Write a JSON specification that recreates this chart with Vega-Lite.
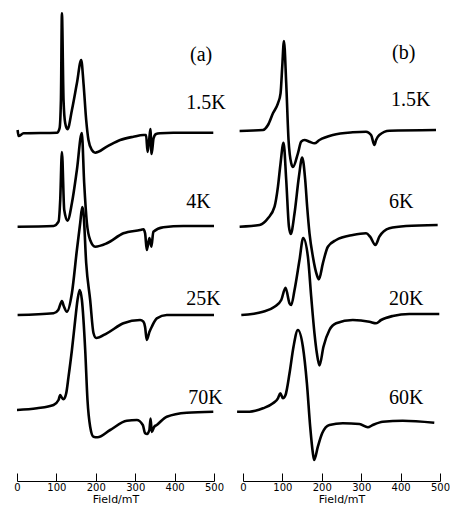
{
  "$schema": "https://vega.github.io/schema/vega-lite/v6.json",
  "padding": {"left": 13, "top": 0, "right": 0, "bottom": 0},
  "bounds": "flush",
  "spacing": 29,
  "background": "white",
  "config": {
    "view": {"stroke": null},
    "axisX": {
      "grid": false,
      "values": [0, 100, 200, 300, 400, 500],
      "domainColor": "black",
      "domainWidth": 1,
      "tickColor": "black",
      "tickWidth": 1,
      "tickSize": -8,
      "labelFlush": false,
      "labelFont": "DejaVu Sans",
      "labelFontSize": 10,
      "labelColor": "black",
      "labelPadding": 9,
      "titleFont": "DejaVu Sans",
      "titleFontSize": 11,
      "titleFontWeight": "normal",
      "titleColor": "black",
      "titlePadding": 1
    }
  },
  "datasets": {
    "spectra": [
      {"p":"a","T":"1.5K","B":1.5,"s":351},{"p":"a","T":"1.5K","B":4.1,"s":345},{"p":"a","T":"1.5K","B":16.7,"s":347.7},{"p":"a","T":"1.5K","B":101.4,"s":348.3},{"p":"a","T":"1.5K","B":108,"s":352.7},{"p":"a","T":"1.5K","B":111.5,"s":381},{"p":"a","T":"1.5K","B":114,"s":467.7},{"p":"a","T":"1.5K","B":118.1,"s":381},{"p":"a","T":"1.5K","B":122.4,"s":357.7},{"p":"a","T":"1.5K","B":128.2,"s":351.7},{"p":"a","T":"1.5K","B":139.4,"s":371},{"p":"a","T":"1.5K","B":152,"s":397.7},{"p":"a","T":"1.5K","B":163,"s":421},{"p":"a","T":"1.5K","B":168.8,"s":397.7},{"p":"a","T":"1.5K","B":175.6,"s":361},{"p":"a","T":"1.5K","B":181.4,"s":341},{"p":"a","T":"1.5K","B":190,"s":331},{"p":"a","T":"1.5K","B":198.4,"s":328.3},{"p":"a","T":"1.5K","B":228,"s":334.3},{"p":"a","T":"1.5K","B":261.8,"s":341},{"p":"a","T":"1.5K","B":295.5,"s":344.3},{"p":"a","T":"1.5K","B":320.8,"s":346},{"p":"a","T":"1.5K","B":327.6,"s":346},{"p":"a","T":"1.5K","B":331.4,"s":329},{"p":"a","T":"1.5K","B":335.2,"s":340},{"p":"a","T":"1.5K","B":338.5,"s":352},{"p":"a","T":"1.5K","B":341.6,"s":327},{"p":"a","T":"1.5K","B":346.7,"s":343},{"p":"a","T":"1.5K","B":353,"s":347},{"p":"a","T":"1.5K","B":363.1,"s":347.7},{"p":"a","T":"1.5K","B":396.8,"s":348.3},{"p":"a","T":"1.5K","B":498.2,"s":348.3},

      {"p":"a","T":"4K","B":1.5,"s":254.3},{"p":"a","T":"4K","B":92.7,"s":255},{"p":"a","T":"4K","B":105.4,"s":259.3},{"p":"a","T":"4K","B":109.7,"s":281},{"p":"a","T":"4K","B":114,"s":329},{"p":"a","T":"4K","B":119.9,"s":271},{"p":"a","T":"4K","B":128.2,"s":260.3},{"p":"a","T":"4K","B":139.4,"s":278},{"p":"a","T":"4K","B":152,"s":311},{"p":"a","T":"4K","B":164.5,"s":348},{"p":"a","T":"4K","B":170.5,"s":298},{"p":"a","T":"4K","B":177.4,"s":258},{"p":"a","T":"4K","B":185.7,"s":241},{"p":"a","T":"4K","B":198.4,"s":234.3},{"p":"a","T":"4K","B":228,"s":237.7},{"p":"a","T":"4K","B":270.1,"s":247.7},{"p":"a","T":"4K","B":312.4,"s":251},{"p":"a","T":"4K","B":320.8,"s":251.7},{"p":"a","T":"4K","B":325.1,"s":247.7},{"p":"a","T":"4K","B":329.4,"s":231},{"p":"a","T":"4K","B":336,"s":243},{"p":"a","T":"4K","B":341.1,"s":234.3},{"p":"a","T":"4K","B":346.1,"s":249.3},{"p":"a","T":"4K","B":371.5,"s":253.7},{"p":"a","T":"4K","B":422.2,"s":255},{"p":"a","T":"4K","B":500,"s":255},

      {"p":"a","T":"25K","B":1.5,"s":166},{"p":"a","T":"25K","B":92.7,"s":167.7},{"p":"a","T":"25K","B":104.7,"s":171},{"p":"a","T":"25K","B":114,"s":180},{"p":"a","T":"25K","B":118.6,"s":175},{"p":"a","T":"25K","B":126.7,"s":169.3},{"p":"a","T":"25K","B":139.4,"s":188},{"p":"a","T":"25K","B":152,"s":231},{"p":"a","T":"25K","B":160.4,"s":258},{"p":"a","T":"25K","B":165.5,"s":274},{"p":"a","T":"25K","B":168.8,"s":268},{"p":"a","T":"25K","B":175.6,"s":218},{"p":"a","T":"25K","B":185.7,"s":181},{"p":"a","T":"25K","B":194.1,"s":148},{"p":"a","T":"25K","B":200.9,"s":143},{"p":"a","T":"25K","B":228,"s":147.7},{"p":"a","T":"25K","B":270.1,"s":157.7},{"p":"a","T":"25K","B":312.4,"s":161},{"p":"a","T":"25K","B":320.8,"s":159.3},{"p":"a","T":"25K","B":325.1,"s":154},{"p":"a","T":"25K","B":329.4,"s":141},{"p":"a","T":"25K","B":336,"s":149},{"p":"a","T":"25K","B":342.1,"s":154.3},{"p":"a","T":"25K","B":354.8,"s":162.7},{"p":"a","T":"25K","B":380.1,"s":166},{"p":"a","T":"25K","B":500,"s":166},

      {"p":"a","T":"70K","B":0,"s":71},{"p":"a","T":"70K","B":50.7,"s":72.7},{"p":"a","T":"70K","B":92.7,"s":76},{"p":"a","T":"70K","B":105.4,"s":81},{"p":"a","T":"70K","B":109.7,"s":86},{"p":"a","T":"70K","B":112.3,"s":84.3},{"p":"a","T":"70K","B":118.1,"s":81.7},{"p":"a","T":"70K","B":124.9,"s":87.7},{"p":"a","T":"70K","B":130.8,"s":104.3},{"p":"a","T":"70K","B":139.4,"s":131},{"p":"a","T":"70K","B":147.7,"s":161},{"p":"a","T":"70K","B":153.6,"s":181},{"p":"a","T":"70K","B":159.1,"s":191},{"p":"a","T":"70K","B":164.7,"s":181},{"p":"a","T":"70K","B":173.1,"s":131},{"p":"a","T":"70K","B":178.9,"s":81},{"p":"a","T":"70K","B":185.7,"s":54.3},{"p":"a","T":"70K","B":194.1,"s":44.3},{"p":"a","T":"70K","B":204.2,"s":43.7},{"p":"a","T":"70K","B":236.4,"s":51},{"p":"a","T":"70K","B":278.7,"s":60.3},{"p":"a","T":"70K","B":304.1,"s":61},{"p":"a","T":"70K","B":319.3,"s":56},{"p":"a","T":"70K","B":325.1,"s":47.7},{"p":"a","T":"70K","B":330.2,"s":47},{"p":"a","T":"70K","B":336,"s":51},{"p":"a","T":"70K","B":339,"s":62.5},{"p":"a","T":"70K","B":342.1,"s":49},{"p":"a","T":"70K","B":347.9,"s":54},{"p":"a","T":"70K","B":354.8,"s":56},{"p":"a","T":"70K","B":380.1,"s":64.3},{"p":"a","T":"70K","B":430.8,"s":68.3},{"p":"a","T":"70K","B":498.2,"s":69.3},

      {"p":"b","T":"1.5K","B":-8.6,"s":350},{"p":"b","T":"1.5K","B":50.7,"s":351},{"p":"b","T":"1.5K","B":63.4,"s":356},{"p":"b","T":"1.5K","B":76,"s":367.7},{"p":"b","T":"1.5K","B":88.7,"s":377.7},{"p":"b","T":"1.5K","B":95.3,"s":387.7},{"p":"b","T":"1.5K","B":99.6,"s":414.3},{"p":"b","T":"1.5K","B":103.9,"s":440},{"p":"b","T":"1.5K","B":109.7,"s":397.7},{"p":"b","T":"1.5K","B":115.6,"s":341},{"p":"b","T":"1.5K","B":122.4,"s":317.7},{"p":"b","T":"1.5K","B":126.7,"s":314},{"p":"b","T":"1.5K","B":139.4,"s":327.7},{"p":"b","T":"1.5K","B":147.7,"s":339.3},{"p":"b","T":"1.5K","B":156.1,"s":341},{"p":"b","T":"1.5K","B":168.8,"s":339.3},{"p":"b","T":"1.5K","B":181.4,"s":337.7},{"p":"b","T":"1.5K","B":194.1,"s":341},{"p":"b","T":"1.5K","B":228.1,"s":346},{"p":"b","T":"1.5K","B":278.7,"s":348.7},{"p":"b","T":"1.5K","B":312.4,"s":349.3},{"p":"b","T":"1.5K","B":325.1,"s":346},{"p":"b","T":"1.5K","B":333.5,"s":336},{"p":"b","T":"1.5K","B":337.8,"s":341},{"p":"b","T":"1.5K","B":346.1,"s":346},{"p":"b","T":"1.5K","B":371.5,"s":350.3},{"p":"b","T":"1.5K","B":489.8,"s":351},

      {"p":"b","T":"6K","B":-8.6,"s":254.3},{"p":"b","T":"6K","B":42.1,"s":256},{"p":"b","T":"6K","B":63.4,"s":262.7},{"p":"b","T":"6K","B":80.1,"s":274.3},{"p":"b","T":"6K","B":88.7,"s":294.3},{"p":"b","T":"6K","B":95.3,"s":317.7},{"p":"b","T":"6K","B":102.9,"s":338.3},{"p":"b","T":"6K","B":109.7,"s":301},{"p":"b","T":"6K","B":116.6,"s":254.3},{"p":"b","T":"6K","B":121.1,"s":247},{"p":"b","T":"6K","B":130.8,"s":267.7},{"p":"b","T":"6K","B":141.9,"s":304.3},{"p":"b","T":"6K","B":150.3,"s":323.5},{"p":"b","T":"6K","B":157.9,"s":301},{"p":"b","T":"6K","B":162.9,"s":274},{"p":"b","T":"6K","B":168.8,"s":247.7},{"p":"b","T":"6K","B":177.4,"s":224.3},{"p":"b","T":"6K","B":187.5,"s":206},{"p":"b","T":"6K","B":192.6,"s":201.7},{"p":"b","T":"6K","B":202.7,"s":217.7},{"p":"b","T":"6K","B":215.4,"s":234.3},{"p":"b","T":"6K","B":236.4,"s":241},{"p":"b","T":"6K","B":278.7,"s":246},{"p":"b","T":"6K","B":312.4,"s":247.7},{"p":"b","T":"6K","B":322.6,"s":244.3},{"p":"b","T":"6K","B":336,"s":236},{"p":"b","T":"6K","B":346.1,"s":244.3},{"p":"b","T":"6K","B":371.5,"s":252.7},{"p":"b","T":"6K","B":413.8,"s":255},{"p":"b","T":"6K","B":494.1,"s":256},

      {"p":"b","T":"20K","B":-4.3,"s":166},{"p":"b","T":"20K","B":50.7,"s":169.3},{"p":"b","T":"20K","B":80.1,"s":174.3},{"p":"b","T":"20K","B":97.1,"s":181},{"p":"b","T":"20K","B":107.9,"s":193.3},{"p":"b","T":"20K","B":118.1,"s":177.7},{"p":"b","T":"20K","B":122.4,"s":176},{"p":"b","T":"20K","B":130.8,"s":191},{"p":"b","T":"20K","B":143.4,"s":221},{"p":"b","T":"20K","B":152.8,"s":243},{"p":"b","T":"20K","B":164.7,"s":224.3},{"p":"b","T":"20K","B":173.1,"s":184.3},{"p":"b","T":"20K","B":181.4,"s":147.7},{"p":"b","T":"20K","B":187.5,"s":127.7},{"p":"b","T":"20K","B":194.1,"s":115.5},{"p":"b","T":"20K","B":204.2,"s":134.3},{"p":"b","T":"20K","B":219.4,"s":151},{"p":"b","T":"20K","B":236.4,"s":157.7},{"p":"b","T":"20K","B":278.7,"s":161},{"p":"b","T":"20K","B":320.8,"s":159.3},{"p":"b","T":"20K","B":337.8,"s":157.7},{"p":"b","T":"20K","B":350.5,"s":161},{"p":"b","T":"20K","B":380.1,"s":165},{"p":"b","T":"20K","B":422.2,"s":167},{"p":"b","T":"20K","B":498.2,"s":167},

      {"p":"b","T":"60K","B":-15,"s":69.3},{"p":"b","T":"60K","B":16.7,"s":69.3},{"p":"b","T":"60K","B":50.7,"s":72.7},{"p":"b","T":"60K","B":76,"s":77.7},{"p":"b","T":"60K","B":88.7,"s":82.7},{"p":"b","T":"60K","B":94.5,"s":87.7},{"p":"b","T":"60K","B":101.4,"s":82.7},{"p":"b","T":"60K","B":107.9,"s":86},{"p":"b","T":"60K","B":118.1,"s":107.7},{"p":"b","T":"60K","B":128.2,"s":134.3},{"p":"b","T":"60K","B":139.4,"s":151},{"p":"b","T":"60K","B":152,"s":134.3},{"p":"b","T":"60K","B":162.2,"s":97.7},{"p":"b","T":"60K","B":170.5,"s":54.3},{"p":"b","T":"60K","B":177.4,"s":27.7},{"p":"b","T":"60K","B":180.7,"s":21},{"p":"b","T":"60K","B":190,"s":34.3},{"p":"b","T":"60K","B":200.9,"s":47.7},{"p":"b","T":"60K","B":219.4,"s":56},{"p":"b","T":"60K","B":253.4,"s":57.7},{"p":"b","T":"60K","B":295.5,"s":57},{"p":"b","T":"60K","B":316.8,"s":53.7},{"p":"b","T":"60K","B":329.4,"s":56},{"p":"b","T":"60K","B":354.8,"s":59.3},{"p":"b","T":"60K","B":405.4,"s":60.3},{"p":"b","T":"60K","B":485.5,"s":58.3}
    ],
    "labels": [
      {"p":"a","label":"(a)","B":439,"s":426},
      {"p":"a","label":"1.5K","B":429.5,"s":378},
      {"p":"a","label":"4K","B":429.5,"s":279},
      {"p":"a","label":"25K","B":429.5,"s":182},
      {"p":"a","label":"70K","B":434.6,"s":83},
      {"p":"b","label":"(b)","B":378.4,"s":428},
      {"p":"b","label":"1.5K","B":375.8,"s":381},
      {"p":"b","label":"6K","B":370.7,"s":279},
      {"p":"b","label":"20K","B":370.7,"s":182},
      {"p":"b","label":"60K","B":370.7,"s":83}
    ]
  },
  "hconcat": [
    {
      "width": 197,
      "height": 481,
      "layer": [
        {
          "data": {"name": "spectra"},
          "transform": [{"filter": "datum.p == 'a'"}],
          "mark": {"type": "line", "color": "black", "strokeWidth": 2.6, "clip": false, "strokeJoin": "round", "interpolate": "monotone"},
          "encoding": {
            "x": {"field": "B", "type": "quantitative", "scale": {"domain": [0, 500], "nice": false}, "axis": {"title": "Field/mT"}},
            "y": {"field": "s", "type": "quantitative", "scale": {"domain": [0, 481], "nice": false}, "axis": null},
            "detail": {"field": "T"}
          }
        },
        {
          "data": {"name": "labels"},
          "transform": [{"filter": "datum.p == 'a'"}],
          "mark": {"type": "text", "font": "Liberation Serif", "fontSize": 20, "align": "left", "baseline": "middle", "color": "black"},
          "encoding": {
            "x": {"field": "B", "type": "quantitative"},
            "y": {"field": "s", "type": "quantitative"},
            "text": {"field": "label"}
          }
        }
      ]
    },
    {
      "width": 197,
      "height": 481,
      "layer": [
        {
          "data": {"name": "spectra"},
          "transform": [{"filter": "datum.p == 'b'"}],
          "mark": {"type": "line", "color": "black", "strokeWidth": 2.6, "clip": false, "strokeJoin": "round", "interpolate": "monotone"},
          "encoding": {
            "x": {"field": "B", "type": "quantitative", "scale": {"domain": [0, 500], "nice": false}, "axis": {"title": "Field/mT"}},
            "y": {"field": "s", "type": "quantitative", "scale": {"domain": [0, 481], "nice": false}, "axis": null},
            "detail": {"field": "T"}
          }
        },
        {
          "data": {"name": "labels"},
          "transform": [{"filter": "datum.p == 'b'"}],
          "mark": {"type": "text", "font": "Liberation Serif", "fontSize": 20, "align": "left", "baseline": "middle", "color": "black"},
          "encoding": {
            "x": {"field": "B", "type": "quantitative"},
            "y": {"field": "s", "type": "quantitative"},
            "text": {"field": "label"}
          }
        }
      ]
    }
  ]
}
